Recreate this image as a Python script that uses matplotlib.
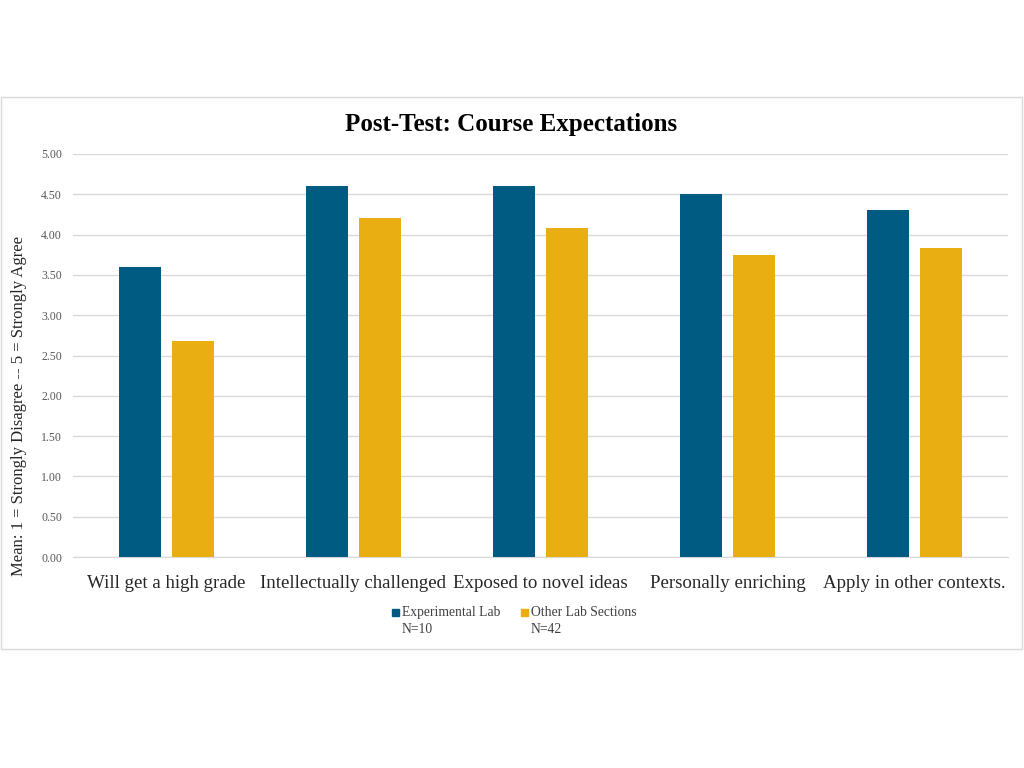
import numpy as np
import matplotlib
matplotlib.use("Agg")
import matplotlib.pyplot as plt
from matplotlib.patches import Rectangle

plt.rcParams["font.family"] = ["Liberation Serif", "DejaVu Serif"]

categories = ["Will get a high grade", "Intellectually challenged", "Exposed to novel ideas",
              "Personally enriching", "Apply in other contexts."]
experimental = [3.60, 4.60, 4.60, 4.50, 4.30]
other = [2.68, 4.20, 4.08, 3.75, 3.83]
series_labels = ["Experimental Lab\nN=10", "Other Lab Sections\nN=42"]
yticks = [0, 0.5, 1, 1.5, 2, 2.5, 3, 3.5, 4, 4.5, 5]

BLUE = "#005b82"
GOLD = "#e8ae12"
W, H = 1024, 768

fig = plt.figure(figsize=(10.24, 7.68), dpi=100)
fig.patches.append(Rectangle((0.001, 1 - 649 / H), 0.997, 552 / H, transform=fig.transFigure,
                             fill=False, edgecolor="#d9d9d9", lw=1))
ax = fig.add_axes([73 / W, 1 - 557 / H, 935 / W, 403 / H])

x = np.arange(len(categories))
w = 0.224
ax.bar(x - 0.143, experimental, w, color=BLUE, zorder=3)
ax.bar(x + 0.143, other, w, color=GOLD, zorder=3)

ax.set_xlim(-0.5, len(categories) - 0.5)
ax.set_ylim(0, 5)
ax.set_yticks(yticks)
ax.set_yticklabels([f"{v:.2f}" for v in yticks], fontsize=8.6, color="#595959")
ax.set_xticks(x)
ax.set_xticklabels(categories, fontsize=13.6, color="#262626")
ax.tick_params(axis="y", length=0, pad=8)
ax.tick_params(axis="x", length=0, pad=13)
ax.grid(axis="y", color="#d9d9d9", lw=1, zorder=0)
for s in ["top", "right", "left"]:
    ax.spines[s].set_visible(False)
ax.spines["bottom"].set_color("#d9d9d9")

fig.text(19 / W, 1 - 406 / H, "Mean: 1 = Strongly Disagree -- 5 = Strongly Agree", rotation=90,
         ha="center", va="center", fontsize=12, color="#262626")

fig.text(511 / W, 1 - 131 / H, "Post-Test: Course Expectations", ha="center", va="baseline",
         fontsize=18, fontweight="bold", color="#000000")

# legend, drawn by hand so the swatch sits on the first line
for (sx, col, lab) in [(392, BLUE, series_labels[0]), (521, GOLD, series_labels[1])]:
    fig.patches.append(Rectangle((sx / W, 1 - 616 / H), 7 / W, 7 / H, transform=fig.transFigure,
                                 color=col))
    fig.text((sx + 10) / W, 1 - 606 / H, lab, ha="left", va="top", fontsize=9.8,
             color="#404040", linespacing=1.4)

fig.savefig("out.png", dpi=100)
